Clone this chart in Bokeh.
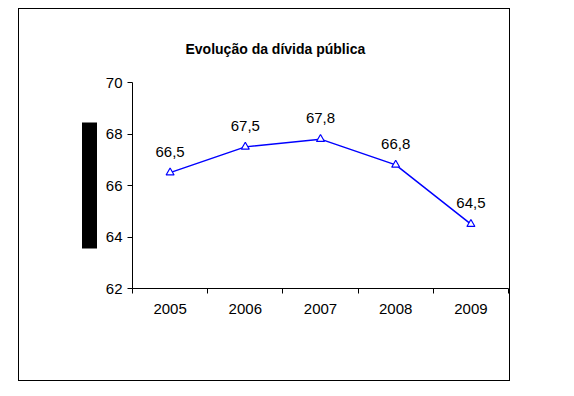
from bokeh.plotting import figure
from bokeh.models import Range1d, FixedTicker, LinearAxis, ColumnDataSource, Spacer
from bokeh.layouts import row, column
from bokeh.core.properties import value
from bokeh.embed import file_html
from bokeh.resources import INLINE

years = ["2005", "2006", "2007", "2008", "2009"]
debt = [66.5, 67.5, 67.8, 66.8, 64.5]
debt_labels = ["66,5", "67,5", "67,8", "66,8", "64,5"]
y_ticks = [62, 64, 66, 68, 70]
title_text = "Evolução da dívida pública"
# extent (in axis units) of the black redaction bar over the y-axis title
redact_span = (63.57, 68.43)

FONT = "Liberation Sans"
xpos = [i + 0.5 for i in range(len(years))]
bounds = list(range(len(years) + 1))

src = ColumnDataSource(dict(x=xpos, y=debt, lab=debt_labels))

p = figure(frame_width=374, frame_height=204,
           x_range=Range1d(0, len(years)), y_range=Range1d(min(y_ticks), max(y_ticks)),
           output_backend="svg", toolbar_location=None,
           min_border_left=113, min_border_right=3, min_border_top=73, min_border_bottom=94)
p.styles = {"border": "1px solid black"}
p.outline_line_color = None
p.xgrid.grid_line_color = None
p.ygrid.grid_line_color = None

p.title.text = title_text
p.title.text_font = FONT
p.title.text_font_size = "14px"
p.title.text_font_style = "bold"
p.title.text_color = "black"
p.title.align = "left"
p.title.offset = 53
p.title.standoff = 52

xa = p.xaxis[0]
xa.ticker = FixedTicker(ticks=xpos, minor_ticks=bounds)
xa.major_label_overrides = {x: y for x, y in zip(xpos, years)}
xa.major_tick_line_color = None
xa.minor_tick_line_color = "black"
xa.minor_tick_in = 0
xa.minor_tick_out = 5
xa.major_label_standoff = 9
xa.major_label_text_font = FONT
xa.major_label_text_font_size = "15px"
xa.major_label_text_color = "black"
xa.axis_line_color = "black"

ya = p.yaxis[0]
ya.ticker = FixedTicker(ticks=y_ticks, minor_ticks=[])
ya.major_tick_in = 0
ya.major_tick_out = 5
ya.major_label_standoff = 5
ya.major_label_text_font = FONT
ya.major_label_text_font_size = "15px"
ya.major_label_text_color = "black"
ya.axis_line_color = "black"
ya.axis_label = " "
ya.axis_label_standoff = 0
ya.axis_label_text_font_size = "9px"

bar_axis = LinearAxis(ticker=FixedTicker(ticks=[], minor_ticks=[]), bounds=redact_span,
                      axis_line_color="black", axis_line_width=15,
                      major_tick_line_color=None, minor_tick_line_color=None,
                      major_label_text_color=None)
p.add_layout(bar_axis, "left")

p.line("x", "y", source=src, line_color="#0000ff", line_width=1.5)
p.scatter("x", "y", source=src, marker="triangle", size=8, fill_color="white",
          line_color="#0000ff", line_width=1.2)
p.text("x", "y", text="lab", source=src, text_align="center", text_baseline="alphabetic",
       y_offset=-21, text_font=value(FONT), text_font_size="15px", text_color="black")

layout = row(Spacer(width=18), column(Spacer(height=8), p))
open("out.html", "w").write(file_html(layout, INLINE))
